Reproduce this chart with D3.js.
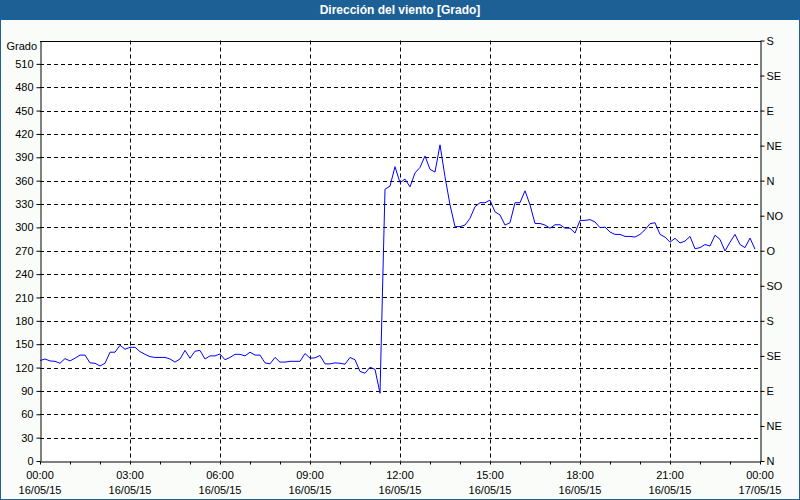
<!DOCTYPE html>
<html><head><meta charset="utf-8">
<script src="https://cdn.jsdelivr.net/npm/d3@7"></script>
<style>
html,body{margin:0;padding:0;background:#fff;}
svg{display:block;}
</style></head>
<body>
<svg id="chart" width="800" height="500"></svg>
<script>
const title = "Dirección del viento [Grado]";
const yLabel = "Grado";
const startTime = "2015-05-16T00:00:00";
const endTime = "2015-05-17T00:00:00";
const stepMinutes = 10;
const values = [
  129,131,128.5,128,125.5,131.5,128.5,132,136,136,126,125.5,122,125.5,139.7,139.7,
  148.7,143.5,146,146,140.5,137,134,133,133,133,131,127,131,142,132,141,
  142,131,135,135,137.5,130,133,137,137,135,139.7,136,136,126,124.7,133,
  127,127,128,128,128,138,132,132.5,135.5,124.7,124.7,126,125.5,124.3,133,130,
  115,112.7,120.4,117.7,87,349,353,378,357.5,362,352,370,377,391.7,374.6,371,
  406,365,329,301,301,303,311.7,326.6,331.7,331.7,335,320,316,303,306,331.7,
  331.7,347,329,305,305,303,299,303.4,303.4,299,299,292.7,309,309,310,307,
  299.6,300.4,294,291,291,288.4,288.4,287.6,291,297,304.7,306,291,287.6,281,286,
  280,282.4,288.4,272.6,274,278,276,290,284.6,269.6,281,291,278,274,286.3,272
];
const yTicks = [0,30,60,90,120,150,180,210,240,270,300,330,360,390,420,450,480,510];
const dirTicks = [0,45,90,135,180,225,270,315,360,405,450,495,540];
const dirLabels = ["N","NE","E","SE","S","SO","O","NO","N","NE","E","SE","S"];

const svg = d3.select("#chart");
const W = 800, H = 500;
const font = "'Liberation Sans', Arial, sans-serif";
const fs = "11px";
const m = {left:40, right:40, top:40.5, bottom:39};
const blue = "#1d6096";

// frame
svg.append("rect").attr("x",0).attr("y",0).attr("width",W).attr("height",H).attr("fill",blue);
svg.append("rect").attr("x",1).attr("y",20).attr("width",W-2).attr("height",H-21).attr("fill","#f9fcf9");
svg.append("text").attr("x",W/2).attr("y",14).attr("text-anchor","middle")
  .attr("fill","#fff").attr("font-family",font).attr("font-weight","bold").attr("font-size","12px").text(title);

const t0 = new Date(startTime), t1 = new Date(endTime);
const data = values.map((v,i)=>({t:new Date(t0.getTime()+i*stepMinutes*60000), v}));

const x = d3.scaleTime().domain([t0,t1]).range([m.left, W-m.right]);
const y = d3.scaleLinear().domain([0,540]).range([H-m.bottom, m.top]);

const g = svg.append("g");
g.append("rect").attr("x",m.left).attr("y",m.top).attr("width",W-m.left-m.right).attr("height",H-m.bottom-m.top).attr("fill","#fff");

const majorX = d3.timeHour.every(3).range(t0, new Date(t1.getTime()+1));
// grid
g.selectAll(".hg").data(yTicks.filter(d=>d>0)).join("line")
  .attr("x1",m.left).attr("x2",W-m.right)
  .attr("y1",d=>Math.round(y(d))+0.5).attr("y2",d=>Math.round(y(d))+0.5)
  .attr("stroke","#000").attr("stroke-dasharray","4,3").attr("stroke-width",1);
g.selectAll(".vg").data(majorX.slice(1,-1)).join("line")
  .attr("x1",d=>Math.round(x(d))+0.5).attr("x2",d=>Math.round(x(d))+0.5)
  .attr("y1",m.top).attr("y2",H-m.bottom)
  .attr("stroke","#000").attr("stroke-dasharray","4,3").attr("stroke-width",1);

// axes
const axStyle = sel => {
  sel.selectAll("text").attr("font-family",font).attr("font-size",fs).attr("fill","#000");
  sel.selectAll("line,path").attr("stroke","#000");
};
const left = g.append("g").attr("transform",`translate(${m.left+0.5},0)`)
  .call(d3.axisLeft(y).tickValues(yTicks).tickSize(4).tickPadding(3).tickSizeOuter(0));
axStyle(left);
const right = g.append("g").attr("transform",`translate(${W-m.right+0.5},0)`)
  .call(d3.axisRight(y).tickValues(dirTicks).tickFormat((d,i)=>dirLabels[i]).tickSize(4).tickPadding(2).tickSizeOuter(0));
axStyle(right);
const bottom = g.append("g").attr("transform",`translate(0,${H-m.bottom+0.5})`)
  .call(d3.axisBottom(x).ticks(d3.timeHour.every(1)).tickFormat("").tickSize(3).tickSizeOuter(0));
axStyle(bottom);
// top border line
g.append("line").attr("x1",m.left).attr("x2",W-m.right+1).attr("y1",Math.round(m.top)+0.5).attr("y2",Math.round(m.top)+0.5).attr("stroke","#000");

const fmtT = d3.timeFormat("%H:%M"), fmtD = d3.timeFormat("%d/%m/%y");
const lbl = g.selectAll(".xl").data(majorX).join("g").attr("transform",d=>`translate(${x(d)},0)`);
lbl.append("text").attr("y",479).attr("text-anchor","middle").attr("font-family",font).attr("font-size",fs).text(fmtT);
lbl.append("text").attr("y",494).attr("text-anchor","middle").attr("font-family",font).attr("font-size",fs).text(fmtD);

g.append("text").attr("x",37).attr("y",50).attr("text-anchor","end").attr("font-family",font).attr("font-size",fs).text(yLabel);

// line
g.append("path").datum(data)
  .attr("d", d3.line().x(d=>x(d.t)).y(d=>y(d.v)))
  .attr("fill","none").attr("stroke","#0000ff").attr("stroke-width",1);
</script>
</body></html>
